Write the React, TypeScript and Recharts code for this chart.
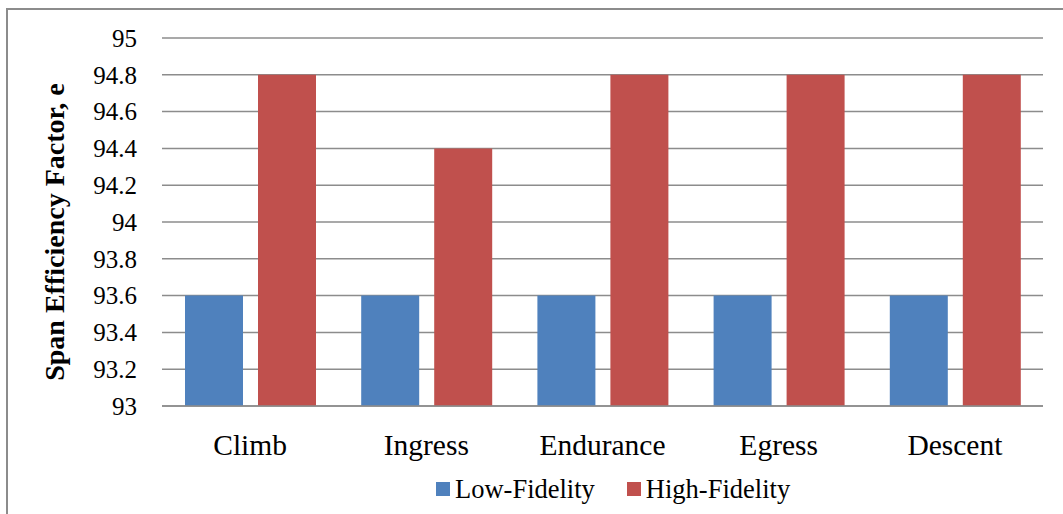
import { BarChart, Bar, XAxis, YAxis, CartesianGrid, Legend } from 'recharts';

const phases = ['Climb', 'Ingress', 'Endurance', 'Egress', 'Descent'];
const lowFidelity = [93.6, 93.6, 93.6, 93.6, 93.6];
const highFidelity = [94.8, 94.4, 94.8, 94.8, 94.8];
const yTicks = [93, 93.2, 93.4, 93.6, 93.8, 94, 94.2, 94.4, 94.6, 94.8, 95];
const seriesOrder = ['Low-Fidelity', 'High-Fidelity'];

const FONT = "'Liberation Serif', 'Times New Roman', Times, serif";

const chartData = phases.map((name, i) => ({
  name,
  low: lowFidelity[i],
  high: highFidelity[i],
}));

// rotated, bold axis title placed from the axis viewBox
const YTitle = ({ viewBox }: any) => {
  const x = viewBox.x + 54;
  const y = viewBox.y + viewBox.height / 2 + 10;
  return (
    <text
      x={x}
      y={y}
      textAnchor="middle"
      dominantBaseline="central"
      transform={`rotate(-90, ${x}, ${y})`}
      fontFamily={FONT}
      fontSize={28}
      fontWeight="bold"
      fill="#000"
    >
      Span Efficiency Factor, e
    </text>
  );
};

const LegendContent = ({ payload }: any) => {
  const items = [...(payload || [])].sort(
    (a: any, b: any) => seriesOrder.indexOf(a.value) - seriesOrder.indexOf(b.value)
  );
  return (
    <div style={{ display: 'flex', alignItems: 'center', fontFamily: FONT, fontSize: 26.5, lineHeight: 1, color: '#000' }}>
      {items.map((entry: any, idx: number) => (
        <div key={idx} style={{ display: 'flex', alignItems: 'center', marginRight: idx === 0 ? 32 : 0 }}>
          <span style={{ display: 'inline-block', width: 14, height: 14, background: entry.color, marginRight: 5 }} />
          <span>{entry.value}</span>
        </div>
      ))}
    </div>
  );
};

export default function App() {
  return (
    <div style={{ position: 'absolute', left: 0, top: 0, width: 1063, height: 514, overflow: 'hidden', background: '#fff' }}>
      <div
        style={{
          position: 'absolute',
          left: 6,
          top: 8,
          width: 1100,
          height: 560,
          border: '2px solid #8c8c8c',
          boxSizing: 'border-box',
        }}
      />
      <div style={{ position: 'absolute', left: 0, top: 0 }}>
        <BarChart
          width={1063}
          height={514}
          data={chartData}
          margin={{ top: 38, right: 20, left: 0, bottom: 0 }}
          barSize={58}
          barGap={15}
        >
          <CartesianGrid vertical={false} stroke="#8c8c8c" strokeWidth={1.5} />
          <XAxis
            dataKey="name"
            height={108}
            tickLine={false}
            tickSize={0}
            tickMargin={28}
            axisLine={{ stroke: '#8c8c8c', strokeWidth: 1.5 }}
            tick={{ fontFamily: FONT, fontSize: 29.5, fill: '#000' }}
          />
          <YAxis
            width={162}
            domain={[93, 95]}
            ticks={yTicks}
            interval={0}
            tickLine={false}
            axisLine={false}
            tickSize={0}
            tickMargin={25}
            tickFormatter={(v: number) => String(Number(v.toFixed(1)))}
            tick={{ fontFamily: FONT, fontSize: 25, fill: '#000' }}
            label={<YTitle />}
          />
          <Legend
            layout="horizontal"
            verticalAlign="middle"
            align="center"
            content={<LegendContent />}
            wrapperStyle={{ position: 'absolute', left: 436, top: 476, width: 'auto' }}
          />
          <Bar dataKey="low" name="Low-Fidelity" fill="#4F81BD" isAnimationActive={false} />
          <Bar dataKey="high" name="High-Fidelity" fill="#C0504D" isAnimationActive={false} />
        </BarChart>
      </div>
    </div>
  );
}
